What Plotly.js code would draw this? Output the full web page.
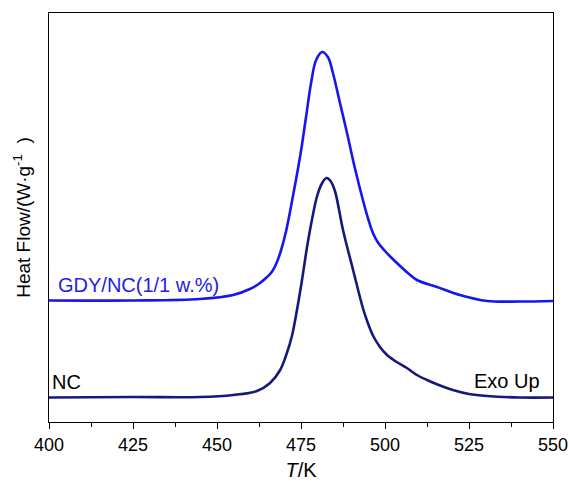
<!DOCTYPE html>
<html><head><meta charset="utf-8">
<script src="https://cdn.plot.ly/plotly-3.0.1.min.js"></script>
<style>html,body{margin:0;padding:0;background:#fff}#chart{width:569px;height:481px}</style>
</head><body><div id="chart"></div>
<script>
// Temperature (K) and heat flow (arbitrary units, offset)
const ncT = [400, 425, 444.9, 454.8, 461.9, 465.8, 468.8, 470.8, 472.3, 473.8, 475.3, 476.8, 478.3, 479.8, 481.3, 482.6, 483.8, 485.1, 487.5, 490.5, 493.5, 495, 496.5, 498.5, 500.6, 503, 506.5, 509.5, 512.5, 516, 520.2, 525, 530.4, 540.2, 550];
const ncY = [24.5, 25, 25, 27, 31, 39, 52, 69, 86, 112, 142, 175, 203, 226, 239, 244, 241, 231, 192, 152, 113, 98, 86, 75, 67, 61, 54, 47, 42, 37, 32, 28, 26, 24.5, 24.5];
const gdyT = [400, 425, 444.9, 454.8, 459.8, 462.4, 464.9, 466.3, 467.6, 469, 470.5, 472, 473.5, 475, 476.5, 478, 479.5, 481.3, 483, 484.5, 486.6, 488.7, 491.1, 493.5, 495, 496.4, 498, 500, 502, 504.5, 506.8, 509.5, 515.5, 522.3, 530.4, 540.2, 550];
const gdyY = [121.5, 121.5, 123, 127, 133, 138, 145, 150, 158, 171, 190, 215, 242, 271, 305, 339, 362, 370, 365, 349, 319, 289, 253, 221, 203, 189, 179, 171, 164, 156, 149, 142, 135, 127, 121, 120.5, 121];
const xTicks = [400, 425, 450, 475, 500, 525, 550];
const labels = {gdy: 'GDY/NC(1/1 w.%)', nc: 'NC', exo: 'Exo Up'};

const font = {family: 'Arial, "Liberation Sans", sans-serif', color: '#000'};
const data = [
  {x: ncT, y: ncY, type: 'scatter', mode: 'lines', line: {color: '#18187c', width: 2.6, shape: 'spline', smoothing: 1}, hoverinfo: 'none'},
  {x: gdyT, y: gdyY, type: 'scatter', mode: 'lines', line: {color: '#1616ee', width: 2.6, shape: 'spline', smoothing: 1}, hoverinfo: 'none'}
];
const layout = {
  width: 569, height: 481,
  margin: {l: 49, r: 16, t: 13, b: 59},
  paper_bgcolor: '#fff', plot_bgcolor: '#fff',
  showlegend: false,
  font: Object.assign({size: 18}, font),
  xaxis: {
    range: [400, 550], tickvals: xTicks, ticktext: xTicks.map(String),
    ticks: 'outside', ticklen: 6, tickwidth: 1, tickcolor: '#000',
    minor: {tickvals: [412.5, 437.5, 462.5, 487.5, 512.5, 537.5], ticks: 'outside', ticklen: 4, tickcolor: '#000', tickwidth: 1},
    showline: true, linecolor: '#000', linewidth: 1, mirror: true,
    showgrid: false, zeroline: false,
    tickfont: Object.assign({size: 18}, font),
    title: {text: '<i>T</i>/K', font: Object.assign({size: 20}, font), standoff: 9}
  },
  yaxis: {
    range: [0, 409], showticklabels: false, ticks: '',
    showline: true, linecolor: '#000', linewidth: 1, mirror: true,
    showgrid: false, zeroline: false,
    title: {text: 'Heat Flow/(W·g<sup>-1</sup>\u00a0\u00a0)', font: Object.assign({size: 19}, font), standoff: 12}
  },
  annotations: [
    {x: 402, y: 137, xref: 'x', yref: 'y', text: labels.gdy, showarrow: false, xanchor: 'left', yanchor: 'middle', font: Object.assign({}, font, {size: 20, color: '#2222e6'})},
    {x: 400.4, y: 40, xref: 'x', yref: 'y', text: labels.nc, showarrow: false, xanchor: 'left', yanchor: 'middle', font: Object.assign({size: 20}, font)},
    {x: 546.8, y: 41, xref: 'x', yref: 'y', text: labels.exo, showarrow: false, xanchor: 'right', yanchor: 'middle', font: Object.assign({size: 20}, font)}
  ]
};
Plotly.newPlot('chart', data, layout, {staticPlot: true, displayModeBar: false});
</script></body></html>
